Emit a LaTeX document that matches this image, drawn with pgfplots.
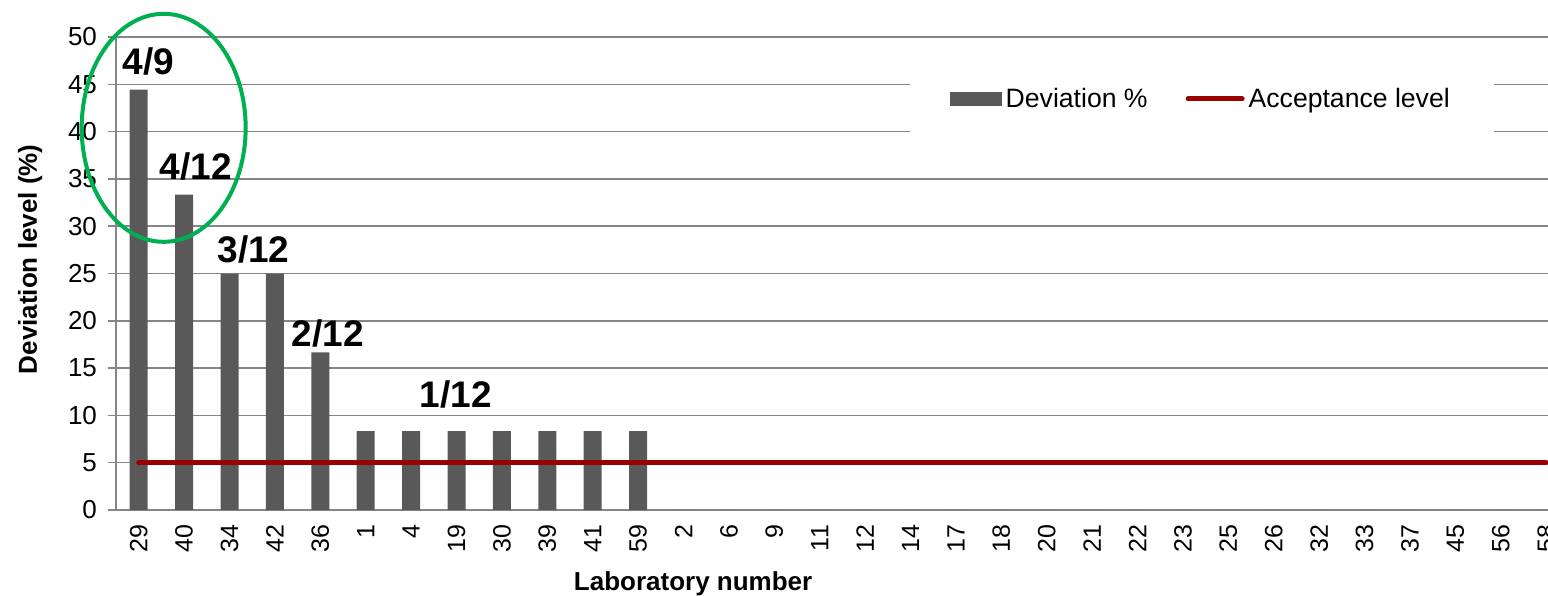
\documentclass[border=0pt]{standalone}
\usepackage{fontspec}
\setmainfont{Liberation Sans}
\usepackage{pgfplots}
\pgfplotsset{compat=1.18}
\definecolor{bargray}{HTML}{595959}
\definecolor{accred}{HTML}{990000}
\definecolor{gridgray}{HTML}{868686}
\definecolor{ringgreen}{HTML}{00B050}

\begin{document}
\begin{tikzpicture}
\begin{axis}[
    scale only axis,
    width=716pt, height=236.5pt,
    xmin=-0.5, xmax=31.04, ymin=0, ymax=50,
    ytick={0,5,...,50},
    xtick={0,...,31},
    xticklabels={29,40,34,42,36,1,4,19,30,39,41,59,2,6,9,11,12,14,17,18,20,21,22,23,25,26,32,33,37,45,56,58},
    x tick label style={rotate=90, anchor=east, font=\fontsize{12.5}{15}\selectfont},
    y tick label style={xshift=-2pt, font=\fontsize{13}{15}\selectfont},
    /pgf/number format/assume math mode=true,
    ymajorgrids,
    grid style={gridgray, line width=0.75pt},
    axis x line*=bottom, axis y line*=left,
    axis line style={gridgray, line width=0.8pt, -},
    x tick style={draw=none},
    y tick style={gridgray, line width=0.75pt},
    tick align=outside, major tick length=4pt,
    clip=false,
    ylabel={Deviation level (\%)},
    ylabel style={font=\bfseries\fontsize{13}{15}\selectfont, at={(axis description cs:-0.060,0.53)}, anchor=center},
    xlabel={Laboratory number},
    xlabel style={font=\bfseries\fontsize{13}{15}\selectfont, at={(axis description cs:0.403,-0.157)}, anchor=center},
    legend style={at={(axis description cs:0.554,0.869)}, anchor=west, draw=none, fill=white,
        inner xsep=20pt, inner ysep=10pt, font=\fontsize{13.3}{16}\selectfont,
        /tikz/every even column/.append style={column sep=17pt}},
    legend columns=2,
    legend cell align=left,
]
\addplot[ybar, bar width=9pt, fill=bargray, draw=none,
    legend image code/.code={\fill[bargray] (0pt,-3.5pt) rectangle (26pt,3.5pt);}]
    coordinates {(0,44.44) (1,33.33) (2,25) (3,25) (4,16.67) (5,8.33) (6,8.33) (7,8.33)
    (8,8.33) (9,8.33) (10,8.33) (11,8.33) (12,0) (13,0) (14,0) (15,0) (16,0) (17,0)
    (18,0) (19,0) (20,0) (21,0) (22,0) (23,0) (24,0) (25,0) (26,0) (27,0) (28,0)
    (29,0) (30,0) (31,0)};
\addlegendentry{Deviation \%}
\addplot[accred, line width=2.5pt, line cap=round,
    legend image code/.code={\draw[accred, line width=2.5pt, line cap=round] (0pt,0pt) -- (27pt,0pt);}]
    coordinates {(0,5) (31,5)};
\addlegendentry{Acceptance level}

\node[font=\bfseries\fontsize{18.5}{22}\selectfont] at (axis cs:0.22,47.4) {4/9};
\node[font=\bfseries\fontsize{18.5}{22}\selectfont] at (axis cs:1.26,36.3) {4/12};
\node[font=\bfseries\fontsize{18.5}{22}\selectfont] at (axis cs:2.53,27.5) {3/12};
\node[font=\bfseries\fontsize{18.5}{22}\selectfont] at (axis cs:4.16,18.7) {2/12};
\node[font=\bfseries\fontsize{18.5}{22}\selectfont] at (axis cs:6.98,12.2) {1/12};
\draw[ringgreen, line width=2pt] (axis cs:0.55,40.4) ellipse [x radius=41pt, y radius=57pt];
\end{axis}
\pgfresetboundingbox
\path[use as bounding box] (-58pt,-42.5pt) rectangle (716pt,255pt);
\end{tikzpicture}
\end{document}
